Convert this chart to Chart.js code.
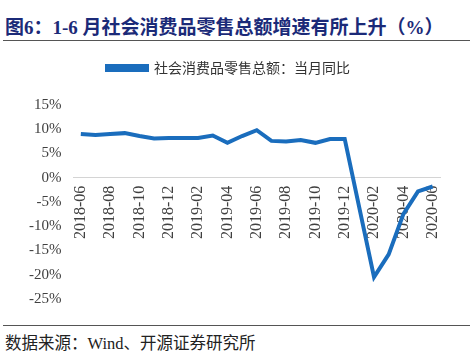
<!DOCTYPE html>
<html lang="zh">
<head>
  <meta charset="UTF-8">
  <title>社会消费品零售总额</title>
  <script src="https://cdn.jsdelivr.net/npm/chart.js"></script>
  <style>
    html, body {
      margin: 0;
      padding: 0;
      width: 474px;
      height: 360px;
      background: #fff;
      overflow: hidden;
      position: relative;
      font-family: "Liberation Serif", "Noto Sans CJK SC", serif;
    }
    .title {
      position: absolute;
      left: 5px;
      top: 12px;
      font-size: 19px;
      font-weight: bold;
      color: #1b2a78;
      white-space: nowrap;
    }
    .rule {
      position: absolute;
      left: 3px;
      width: 467px;
      height: 0;
      border-top: 1.5px solid #555;
    }
    .source {
      position: absolute;
      left: 5px;
      top: 330px;
      font-size: 16.5px;
      color: #222;
      white-space: nowrap;
    }
    .chart-box {
      position: absolute;
      left: 0;
      top: 48px;
      width: 474px;
      height: 272px;
    }
  </style>
</head>
<body>
  <div class="title">图6：1-6 月社会消费品零售总额增速有所上升（%）</div>
  <div class="rule" style="top: 40px;"></div>
  <div class="chart-box"><canvas id="salesChart"></canvas></div>
  <div class="rule" style="top: 325px;"></div>
  <div class="source">数据来源：Wind、开源证券研究所</div>

  <script>
    // months shown on the axis (every second one is labelled)
    const months = [
      '2018-06', '2018-07', '2018-08', '2018-09', '2018-10', '2018-11', '2018-12',
      '2019-01', '2019-02', '2019-03', '2019-04', '2019-05', '2019-06', '2019-07',
      '2019-08', '2019-09', '2019-10', '2019-11', '2019-12',
      '2020-01', '2020-02', '2020-03', '2020-04', '2020-05', '2020-06'
    ];
    // 当月同比, %  (January is published together with February)
    const retailYoY = [
      9.0, 8.8, 9.0, 9.2, 8.6, 8.1, 8.2,
      null, 8.2, 8.7, 7.2, 8.6, 9.8, 7.6,
      7.5, 7.8, 7.2, 8.0, 8.0,
      null, -20.5, -15.8, -7.5, -2.8, -1.8
    ];
    const seriesName = '社会消费品零售总额：当月同比';
    const yMin = -25, yMax = 15, yStep = 5;

    const lineColor = '#1a6dbd';
    const tickColor = '#404040';

    new Chart(document.getElementById('salesChart'), {
      type: 'line',
      data: {
        labels: months,
        datasets: [{
          label: seriesName,
          data: retailYoY,
          borderColor: lineColor,
          backgroundColor: lineColor,
          borderWidth: 4,
          pointRadius: 0,
          tension: 0,
          spanGaps: true
        }]
      },
      options: {
        responsive: true,
        maintainAspectRatio: false,
        animation: false,
        layout: { padding: { left: 17, right: 34, top: 0, bottom: 13 } },
        plugins: {
          legend: {
            position: 'top',
            labels: {
              boxWidth: 40,
              boxHeight: 4,
              padding: 13,
              color: '#333',
              font: { family: '"Noto Sans CJK SC"', size: 14 }
            }
          },
          // empty title used as a gap between legend and plot
          title: {
            display: true,
            text: '',
            weight: 500,
            font: { size: 10 },
            padding: { top: 4, bottom: 4 }
          },
          tooltip: { enabled: false }
        },
        scales: {
          x: {
            position: { y: 0 },
            offset: true,
            grid: { display: false, drawTicks: false },
            border: { display: true, color: '#d4d4d4', width: 1 },
            ticks: {
              autoSkip: false,
              minRotation: 90,
              maxRotation: 90,
              padding: 8,
              color: tickColor,
              font: { family: '"Liberation Serif"', size: 16 },
              callback: function (val, i) {
                return i % 2 === 0 ? months[i] : '';
              }
            },
            afterFit: function (scale) { scale.height = 2; }
          },
          y: {
            min: yMin,
            max: yMax,
            grid: { display: false, drawTicks: false },
            border: { display: false },
            ticks: {
              stepSize: yStep,
              padding: 12,
              color: tickColor,
              font: { family: '"Liberation Serif"', size: 15 },
              callback: v => v + '%'
            }
          }
        }
      }
    });
  </script>
</body>
</html>
